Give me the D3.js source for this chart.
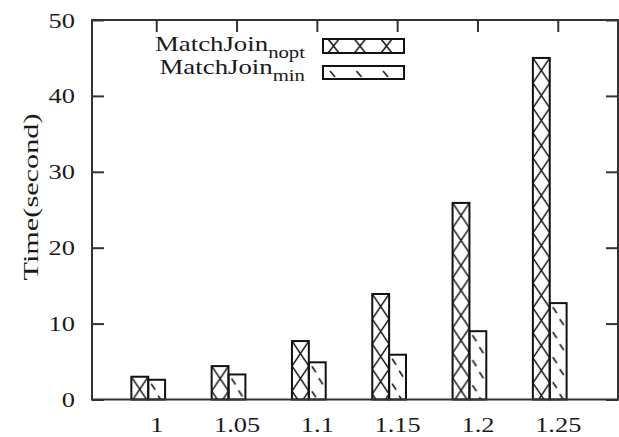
<!DOCTYPE html>
<html>
<head>
<meta charset="utf-8">
<script src="https://cdn.jsdelivr.net/npm/d3@7"></script>
<style>
  body { margin: 0; background: #fff; }
  text { font-family: "Liberation Serif", "Times New Roman", serif; fill: #1a1a1a; }
</style>
</head>
<body>
<div id="chart"></div>
<script>
// values
const categories = ["1", "1.05", "1.1", "1.15", "1.2", "1.25"];
const noptValues = [3.0, 4.4, 7.7, 13.9, 25.9, 45.0];
const minValues = [2.6, 3.3, 4.9, 5.9, 9.0, 12.7];
const yTicks = [0, 10, 20, 30, 40, 50];
const seriesNames = [
    { main: "MatchJoin", sub: "nopt" },
    { main: "MatchJoin", sub: "min" }
];

const W = 619, H = 437;
const margin = { top: 20, right: 1, bottom: 37.5, left: 92 },
    width = W - margin.left - margin.right,
    height = H - margin.top - margin.bottom;

const svg = d3.select("#chart")
    .append("svg")
    .attr("width", W)
    .attr("height", H);

const g = svg.append("g")
    .attr("transform", `translate(${margin.left}, ${margin.top})`);

const x = d3.scaleLinear()
    .domain([-0.8, 5.75])
    .range([0, width]);
const y = d3.scaleLinear()
    .domain([0, 50])
    .range([height, 0]);

// two bars per category, just left of the tick (like gnuplot)
const barOffset = [-0.31, -0.10],
    barW = 0.21;
const seriesVals = [noptValues, minValues];
const bars = [];
seriesVals.forEach((vals, s) => vals.forEach((v, i) => bars.push({ s, i, v })));

const bx = d => x(d.i + barOffset[d.s]);
const bw = () => x(barW) - x(0);

// fill patterns, one per bar so they line up with the bar edges
const defs = svg.append("defs");
const pats = defs.selectAll("pattern")
    .data(bars)
    .enter().append("pattern")
    .attr("id", d => `p${d.s}-${d.i}`)
    .attr("patternUnits", "userSpaceOnUse")
    .attr("x", d => bx(d))
    .attr("y", d => y(d.v))
    .attr("width", bw())
    .attr("height", 25);
pats.append("path")
    .attr("d", d => {
        const w = bw();
        return d.s === 0
            ? `M0,0L${w},25M${w},0L0,25`
            : `M3,4L7,10M10,16L14,22`;
    })
    .attr("stroke", "#111")
    .attr("stroke-width", 1.5)
    .attr("fill", "none");

// legend patterns
const lp0 = defs.append("pattern")
    .attr("id", "leg0").attr("patternUnits", "userSpaceOnUse")
    .attr("x", 231 + 2).attr("y", 19).attr("width", 26.5).attr("height", 14);
lp0.append("path").attr("d", "M3,0L14,14M14,0L3,14")
    .attr("stroke", "#111").attr("stroke-width", 1.5).attr("fill", "none");
const lp1 = defs.append("pattern")
    .attr("id", "leg1").attr("patternUnits", "userSpaceOnUse")
    .attr("x", 231 + 2).attr("y", 46).attr("width", 26.5).attr("height", 13);
lp1.append("path").attr("d", "M5,5L10,11")
    .attr("stroke", "#111").attr("stroke-width", 1.5).attr("fill", "none");

g.selectAll(".bar")
    .data(bars)
    .enter().append("rect")
    .attr("class", "bar")
    .attr("x", d => bx(d))
    .attr("y", d => y(d.v))
    .attr("width", bw())
    .attr("height", d => height - y(d.v))
    .attr("fill", d => `url(#p${d.s}-${d.i})`)
    .attr("stroke", "#111")
    .attr("stroke-width", 2);

// axes: gnuplot style, ticks inward, mirrored
const yAxis = g.append("g")
    .attr("class", "yaxis")
    .style("font-size", "22px")
    .call(d3.axisLeft(y).tickValues(yTicks).tickSizeInner(-12).tickSizeOuter(0).tickPadding(17));
yAxis.selectAll("text")
    .attr("x", 0)
    .attr("transform", "translate(-17,0) scale(1.2,1)");

g.append("g")
    .attr("transform", `translate(${width}, 0)`)
    .call(d3.axisRight(y).tickValues(yTicks).tickSizeInner(-12).tickSizeOuter(0).tickFormat(() => ""));

g.append("g")
    .call(d3.axisBottom(x).tickValues(d3.range(categories.length)).tickSizeInner(12).tickSizeOuter(0).tickFormat(() => ""));

const xAxis = g.append("g")
    .attr("class", "xaxis")
    .attr("transform", `translate(0, ${height})`)
    .style("font-size", "22px")
    .call(d3.axisBottom(x).tickValues(d3.range(categories.length)).tickSize(0).tickPadding(17)
        .tickFormat(i => categories[i]));
xAxis.selectAll("text").attr("transform", "scale(1.2,1)");

g.selectAll(".domain").remove();
g.selectAll(".tick line").attr("stroke", "#333").attr("stroke-width", 2);
g.selectAll(".tick text").attr("fill", "#1a1a1a").style("font-family", '"Liberation Serif", serif');

// frame
g.append("rect")
    .attr("x", 0).attr("y", 0)
    .attr("width", width).attr("height", height)
    .attr("fill", "none")
    .attr("stroke", "#333")
    .attr("stroke-width", 2);

// y label
svg.append("text")
    .attr("transform", "translate(30, 197) rotate(-90)")
    .attr("text-anchor", "middle")
    .attr("dominant-baseline", "central")
    .style("font-size", "22px")
    .attr("textLength", 167)
    .attr("lengthAdjust", "spacingAndGlyphs")
    .text("Time(second)");

// legend
const legY = [31, 54], boxY = [19, 46], boxH = [14, 13];
seriesNames.forEach((nm, s) => {
    const t = g.append("text")
        .attr("transform", `translate(213, ${legY[s]}) scale(1.22,1)`)
        .attr("text-anchor", "end")
        .style("font-size", "22px");
    t.append("tspan").text(nm.main);
    t.append("tspan").attr("dy", 7).style("font-size", "17px").text(nm.sub);
    g.append("rect")
        .attr("x", 231).attr("y", boxY[s])
        .attr("width", 81).attr("height", boxH[s])
        .attr("fill", `url(#leg${s})`)
        .attr("stroke", "#111")
        .attr("stroke-width", 2);
});
</script>
</body>
</html>
